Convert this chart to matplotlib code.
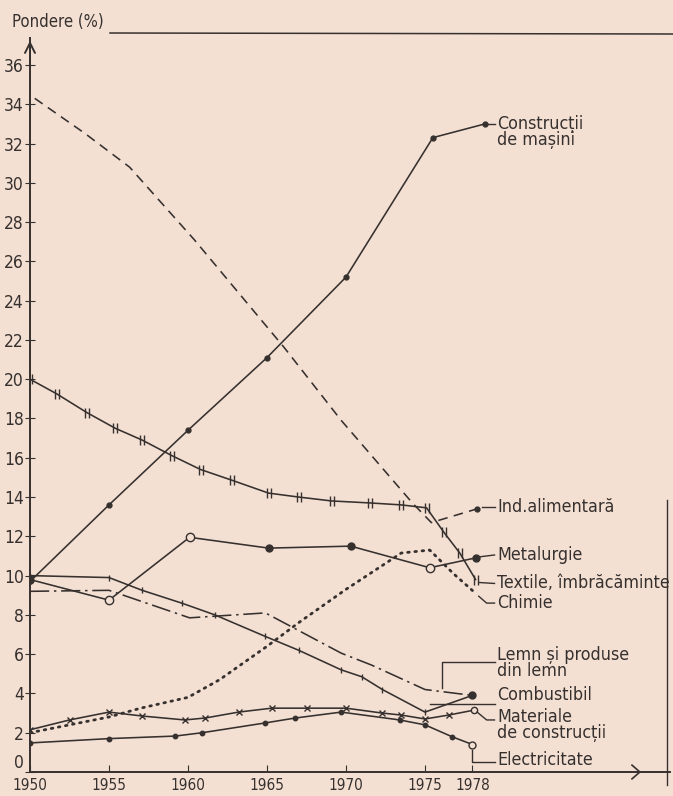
import numpy as np
import matplotlib.pyplot as plt
from matplotlib import font_manager
from matplotlib.lines import Line2D
from matplotlib.path import Path

# valori (pondere %, ani)
ani_constr = [1950, 1955, 1960, 1965, 1970, 1975.5, 1978.8]
constr_masini = [9.7, 13.6, 17.4, 21.1, 25.2, 32.3, 33.0]

ani_alim = [1950.3, 1953.5, 1956.3, 1960.4, 1966.1, 1969.7, 1974.2, 1975.4, 1978.3]
ind_alimentara = [34.3, 32.5, 30.8, 27.1, 21.6, 17.9, 13.7, 12.7, 13.4]

ani_text = [1950, 1951.7, 1953.6, 1955.4, 1957.1, 1959.0, 1960.8, 1962.8, 1965.1,
            1967.0, 1969.1, 1971.5, 1973.5, 1975.1, 1976.2, 1977.2, 1978.2]
textile = [20.0, 19.25, 18.3, 17.5, 16.9, 16.1, 15.4, 14.85, 14.2,
           14.0, 13.8, 13.7, 13.6, 13.45, 12.2, 11.15, 9.8]

ani_metal = [1950, 1955, 1960.1, 1965.1, 1970.3, 1975.3, 1978.2]
metalurgie = [9.8, 8.75, 11.95, 11.4, 11.5, 10.4, 10.9]

ani_chim = [1950, 1955, 1957, 1960, 1962, 1965, 1967, 1970, 1973.5, 1975.3, 1976.8, 1978.2]
chimie = [2.0, 2.8, 3.25, 3.8, 4.7, 6.4, 7.6, 9.3, 11.15, 11.3, 10.1, 9.1]

ani_lemn = [1950, 1955, 1960.1, 1964.9, 1969.7, 1971.6, 1975, 1978]
lemn = [9.2, 9.25, 7.85, 8.1, 6.05, 5.45, 4.2, 3.9]

ani_comb = [1950, 1955, 1957.1, 1959.6, 1961.7, 1964.9, 1967, 1969.7, 1971, 1972.3, 1975, 1978]
combustibil = [10.0, 9.9, 9.25, 8.6, 8.0, 6.9, 6.2, 5.2, 4.85, 4.2, 3.05, 3.9]

ani_mat = [1950, 1952.5, 1955, 1957.1, 1959.8, 1961.1, 1963.2, 1965.3, 1967.5,
           1970, 1972.3, 1973.5, 1975, 1976.5, 1978.1]
materiale = [2.15, 2.65, 3.05, 2.85, 2.65, 2.75, 3.05, 3.25, 3.25,
             3.25, 3.0, 2.9, 2.7, 2.9, 3.15]

ani_el = [1950, 1955, 1959.2, 1960.9, 1964.9, 1966.8, 1969.7, 1973.4, 1975, 1976.7, 1978]
electricitate = [1.48, 1.7, 1.83, 2.0, 2.5, 2.75, 3.05, 2.65, 2.4, 1.8, 1.4]

ani_ticks = [1950, 1955, 1960, 1965, 1970, 1975, 1978]
y_ticks = list(range(0, 37, 2))

BG = '#f3e0d3'
INK = '#36302e'
W, H = 673, 796

# font ingust daca exista
names = {f.name for f in font_manager.fontManager.ttflist}
condensed = any(f.name == 'DejaVu Sans' and f.stretch == 'condensed'
                for f in font_manager.fontManager.ttflist)
if 'Liberation Sans Narrow' in names:
    plt.rcParams['font.family'] = ['Liberation Sans Narrow', 'DejaVu Sans']
    fs, fs_tick = 13.5, 13.5
elif condensed:
    plt.rcParams['font.family'] = ['DejaVu Sans']
    plt.rcParams['font.stretch'] = 'condensed'
    fs, fs_tick = 12.8, 12.5
else:
    plt.rcParams['font.family'] = ['DejaVu Sans']
    fs, fs_tick = 10.5, 11

fig = plt.figure(figsize=(W / 100, H / 100), dpi=100, facecolor=BG)
# axa: 1950 la x=30px, 0 la y=772px
ax = fig.add_axes([30 / W, 24 / H, 640 / W, 734 / H])
ax.set_facecolor(BG)
ax.set_xlim(1950, 1950 + 640 / 15.8)
ax.set_ylim(0, 734 / 19.64)

# marker "||"
dbl = Path([(-0.45, -1), (-0.45, 1), (0.45, -1), (0.45, 1)],
           [Path.MOVETO, Path.LINETO, Path.MOVETO, Path.LINETO])

lw = 1.15
ax.plot(ani_constr, constr_masini, color=INK, lw=lw, marker='o', ms=3.5)
ax.plot(ani_alim, ind_alimentara, color=INK, lw=lw, linestyle=(0, (6, 4)),
        marker='o', ms=3.5, markevery=[-1])
ax.plot(ani_text, textile, color=INK, lw=lw, marker=dbl, ms=7, mew=1.0, mec=INK)
ax.plot(ani_metal, metalurgie, color=INK, lw=lw)
ax.plot(ani_metal, metalurgie, linestyle='None', marker='o', ms=5,
        mfc=INK, mec=INK, markevery=[0, 3, 4, 6])
ax.plot(ani_metal, metalurgie, linestyle='None', marker='o', ms=6,
        mfc=BG, mec=INK, markevery=[1, 2, 5])
ax.plot(ani_chim, chimie, color=INK, lw=2.0, linestyle=(0, (0.6, 2.0)),
        dash_capstyle='round')
ax.plot(ani_lemn, lemn, color=INK, lw=lw, linestyle=(0, (12, 3, 1.5, 3)))
ax.plot(ani_comb, combustibil, color=INK, lw=lw, marker='|', ms=5, markevery=0.012)
ax.plot(ani_comb[-1:], combustibil[-1:], linestyle='None', marker='o', ms=5, mfc=INK, mec=INK)
ax.plot(ani_mat, materiale, color=INK, lw=lw, marker='x', ms=4.5,
        markevery=list(range(len(ani_mat) - 1)))
ax.plot(ani_mat[-1:], materiale[-1:], linestyle='None', marker='o', ms=4.5, mfc=BG, mec=INK)
ax.plot(ani_el, electricitate, color=INK, lw=lw, marker='o', ms=3.2, markevery=0.018)
ax.plot(ani_el[-1:], electricitate[-1:], linestyle='None', marker='o', ms=5, mfc=BG, mec=INK)

# etichete serii
xt = 1979.55
labels = [
    (33.45, 'Construcții\nde mașini', 'top'),
    (13.5, 'Ind.alimentară', 'center'),
    (11.05, 'Metalurgie', 'center'),
    (9.6, 'Textile, îmbrăcăminte', 'center'),
    (8.6, 'Chimie', 'center'),
    (6.4, 'Lemn și produse\ndin lemn', 'top'),
    (3.9, 'Combustibil', 'center'),
    (3.25, 'Materiale\nde construcții', 'top'),
    (0.6, 'Electricitate', 'center'),
]
for y, txt, va in labels:
    ax.text(xt, y, txt, fontsize=fs, color=INK, va=va, ha='left', linespacing=0.82)

leaders = [
    ([1978.9, 1979.4], [33.0, 33.0]),
    ([1978.6, 1979.4], [13.5, 13.5]),
    ([1978.4, 1979.4], [10.95, 11.05]),
    ([1978.4, 1979.4], [9.65, 9.6]),
    ([1978.4, 1978.9, 1979.4], [8.95, 8.6, 8.6]),
    ([1976.1, 1976.1, 1979.4], [4.3, 5.6, 5.6]),
    ([1975.3, 1979.4], [3.45, 3.45]),
    ([1978.3, 1978.9, 1979.4], [3.05, 2.65, 2.65]),
    ([1978.0, 1978.0, 1979.4], [1.1, 0.5, 0.5]),
]
for xs, ys in leaders:
    ax.plot(xs, ys, color=INK, lw=1.0)

# axe
for s in ['top', 'right']:
    ax.spines[s].set_visible(False)
for s in ['left', 'bottom']:
    ax.spines[s].set_color(INK)
    ax.spines[s].set_linewidth(1.4)
ax.set_xticks(ani_ticks)
ax.set_xticklabels([str(a) for a in ani_ticks])
ax.set_yticks(y_ticks)
ax.tick_params(axis='x', direction='in', length=5, color=INK, labelsize=fs_tick - 1.5,
               labelcolor=INK, pad=4)
ax.tick_params(axis='y', direction='inout', length=7, color=INK, labelsize=fs_tick,
               labelcolor=INK, pad=1)
ax.get_yticklabels()[0].set_verticalalignment('bottom')
ax.annotate('', xy=(0, 1.0), xycoords='axes fraction', xytext=(0, 0.96),
            arrowprops=dict(arrowstyle='->', color=INK, lw=1.4, mutation_scale=18))
ax.plot([1988.1, 1988.6, 1988.1], [0.35, 0.0, -0.35], color=INK, lw=1.2, clip_on=False)

fig.text(12 / W, 1 - 22 / H, 'Pondere (%)', fontsize=fs_tick - 0.5, color=INK,
         va='center', ha='left')
fig.add_artist(Line2D([110 / W, 1.0], [1 - 33 / H, 1 - 34 / H], color=INK, lw=1.1))
fig.add_artist(Line2D([667 / W, 667 / W], [1 - 500 / H, 1 - 785 / H], color=INK, lw=1.0))

fig.savefig('out.png', dpi=100, facecolor=BG)
